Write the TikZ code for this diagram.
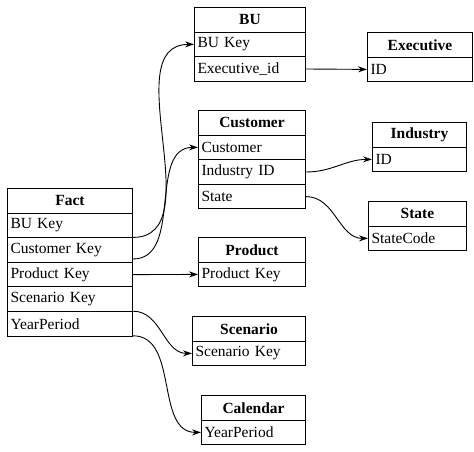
\documentclass[tikz,border=0pt]{standalone}
\usepackage{fontspec}
\setmainfont{Liberation Serif}
\usetikzlibrary{arrows.meta}
\begin{document}
\begin{tikzpicture}[x=1pt,y=-1pt,
  cell/.style={draw, line width=1pt, anchor=north west, minimum height=24.6pt, inner sep=3pt, font=\fontsize{15.5}{16}\selectfont},
  row/.style={cell, text width=#1-6pt, align=left},
  head/.style={cell, text width=#1-6pt, align=center, font=\fontsize{15.5}{16}\selectfont\bfseries},
  link/.style={line width=0.9pt, -{Stealth[length=9pt,width=6pt]}}]
\useasboundingbox (0,0) rectangle (474,452);
% Fact
\node[head=125pt] (fh) at (7,188) {Fact};
\node[row=125pt] (f1) at (7,212.6) {BU Key};
\node[row=125pt] (f2) at (7,237.2) {Customer Key};
\node[row=125pt] (f3) at (7,261.8) {Product Key};
\node[row=125pt] (f4) at (7,286.4) {Scenario Key};
\node[row=125pt] (f5) at (7,311) {YearPeriod};
% BU
\node[head=111pt] (buh) at (194,7) {BU};
\node[row=111pt] (bu1) at (194,31.6) {BU Key};
\node[row=111pt] (bu2) at (194,56.2) {Executive\_id};
% Executive
\node[head=105pt] (exh) at (367,32) {Executive};
\node[row=105pt] (ex1) at (367,56.6) {ID};
% Customer
\node[head=107pt] (cuh) at (198,110) {Customer};
\node[row=107pt] (cu1) at (198,134.6) {Customer};
\node[row=107pt] (cu2) at (198,159.2) {Industry ID};
\node[row=107pt] (cu3) at (198,183.8) {State};
% Industry
\node[head=94pt] (inh) at (372,122) {Industry};
\node[row=94pt] (in1) at (372,146.6) {ID};
% State
\node[head=98pt] (sth) at (368,201) {State};
\node[row=98pt] (st1) at (368,225.6) {StateCode};
% Product
\node[head=107pt] (prh) at (198,237) {Product};
\node[row=107pt] (pr1) at (198,261.6) {Product Key};
% Scenario
\node[head=113pt] (sch) at (192,316) {Scenario};
\node[row=113pt] (sc1) at (192,340.6) {Scenario Key};
% Calendar
\node[head=104pt] (cah) at (201,395) {Calendar};
\node[row=104pt] (ca1) at (201,419.6) {YearPeriod};
% links
\draw[link] ([yshift=-12pt]f1.east) to[out=0,in=180] (bu1.west);
\draw[link] ([yshift=-9pt]f2.east) to[out=0,in=180] (cu1.west);
\draw[link] (f3.east) -- (pr1.west);
\draw[link] ([yshift=-12pt]f4.east) to[out=0,in=180] (sc1.west);
\draw[link] ([yshift=-12pt]f5.east) to[out=0,in=180] (ca1.west);
\draw[link] (bu2.east) -- (ex1.west);
\draw[link] (cu2.east) to[out=0,in=180] (in1.west);
\draw[link] (cu3.east) to[out=0,in=180] (st1.west);
\end{tikzpicture}
\end{document}
